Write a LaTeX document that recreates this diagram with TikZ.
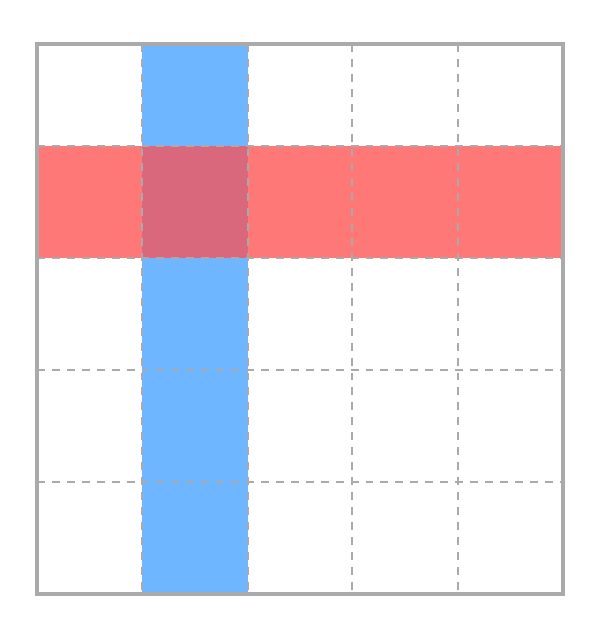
\documentclass[tikz,border=0pt]{standalone}
\usepackage{xcolor}
\usepackage{tikz}
\usetikzlibrary{calc}
\definecolor{gridgray}{RGB}{170,170,170}
\definecolor{colblue}{RGB}{110,182,255}
\definecolor{rowred}{RGB}{255,120,120}
\definecolor{crossred}{RGB}{218,104,124}
\tikzset{
  gridline/.style={draw=gridgray, line width=1.6pt, dash pattern=on 4.5pt off 4pt},
  frame/.style={draw=gridgray, line width=1.8pt},
}
\begin{document}
\begin{tikzpicture}[x=0.02cm,y=-0.02cm]
    \useasboundingbox (0,0) rectangle (600,630);
    % highlighted column and row
    \fill[colblue] (142,44) rectangle (248,594);
    \fill[rowred] (37,146) rectangle (563,258);
    \fill[crossred] (142,146) rectangle (248,258);
    % inner dashed lines
    \foreach \x in {142,248,352,458}
      \draw[gridline] (\x,44) -- (\x,594);
    \foreach \y in {146,258,370,482}
      \draw[gridline] (37,\y) -- (563,\y);
    \draw[frame] (37,44) rectangle (563,594);
  \end{tikzpicture}
\end{document}
